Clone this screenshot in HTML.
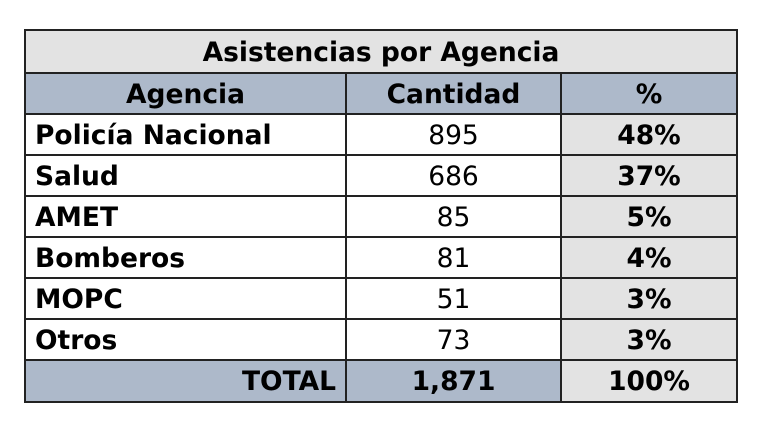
<!DOCTYPE html>
<html><head><meta charset="utf-8"><style>
body{margin:0;width:768px;height:432px;background:#fff;position:relative;overflow:hidden;font-family:"DejaVu Sans","Liberation Sans",sans-serif;color:#000}
.c{position:absolute;box-sizing:border-box;border:2px solid #222;display:flex;align-items:center;justify-content:center;font-size:26.5px;line-height:1;padding-top:3px}
.b{font-weight:bold}.l{justify-content:flex-start;padding-left:9px}.r{justify-content:flex-end;padding-right:9px}
.g{background:#e3e3e3}.bl{background:#adb9ca}
</style></head><body>
<div id="t"></div>
<script>
const agencies=["Policía Nacional","Salud","AMET","Bomberos","MOPC","Otros"];
const counts=["895","686","85","81","51","73"];
const pcts=["48%","37%","5%","4%","3%","3%"];
const total=["TOTAL","1,871","100%"];
const xs=[24,345,560,736];
const ys=[29,72,113,154,195,236,277,318,359,401];
const t=document.getElementById('t');
function cell(x0,x1,y0,y1,txt,cls,name){
 const d=document.createElement('div');
 d.className='c '+cls;
 d.style.left=x0+'px';d.style.top=y0+'px';d.style.width=(x1-x0+2)+'px';d.style.height=(y1-y0+2)+'px';
 d.textContent=txt;
 
 
 t.appendChild(d);
}
cell(xs[0],xs[3],ys[0],ys[1],"Asistencias por Agencia","b g","table-title");
cell(xs[0],xs[1],ys[1],ys[2],"Agencia","b bl","header-agencia");
cell(xs[1],xs[2],ys[1],ys[2],"Cantidad","b bl","header-cantidad");
cell(xs[2],xs[3],ys[1],ys[2],"%","b bl","header-percent");
agencies.forEach((a,i)=>{
 cell(xs[0],xs[1],ys[i+2],ys[i+3],a,"b l","agency-name");
 cell(xs[1],xs[2],ys[i+2],ys[i+3],counts[i],"","agency-count");
 cell(xs[2],xs[3],ys[i+2],ys[i+3],pcts[i],"b g","agency-percent");
});
cell(xs[0],xs[1],ys[8],ys[9],total[0],"b bl r","total-label");
cell(xs[1],xs[2],ys[8],ys[9],total[1],"b bl","total-count");
cell(xs[2],xs[3],ys[8],ys[9],total[2],"b g","total-percent");
</script>
</body></html>
